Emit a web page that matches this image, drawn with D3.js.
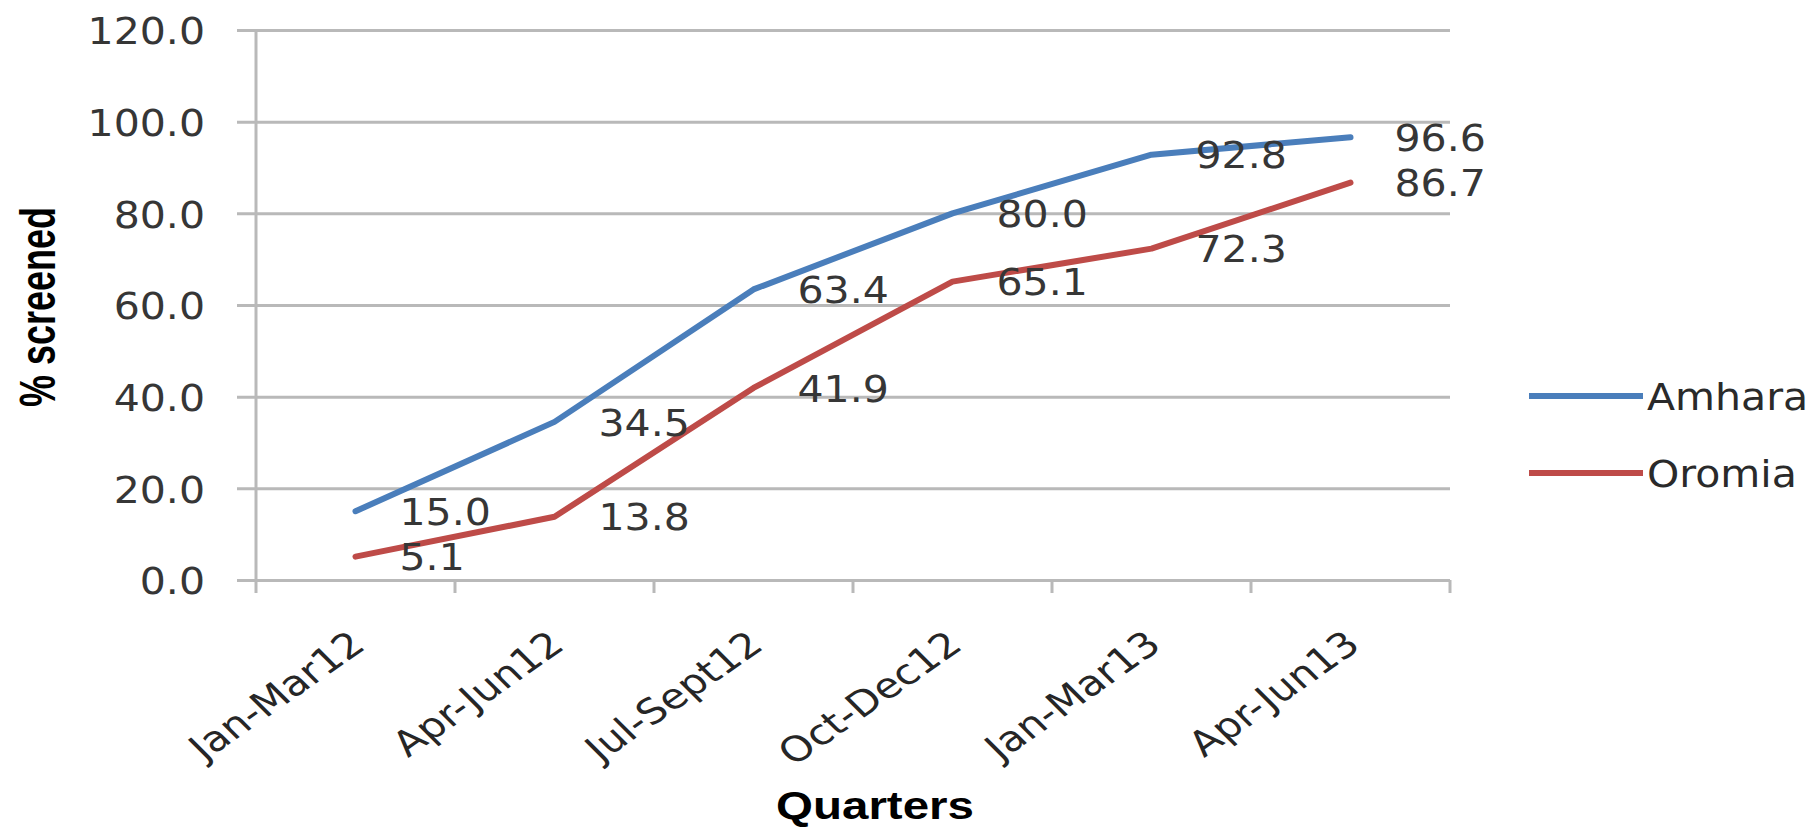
<!DOCTYPE html>
<html>
<head>
<meta charset="utf-8">
<script src="https://cdn.jsdelivr.net/npm/d3@7"></script>
<style>
  html, body { margin: 0; padding: 0; background: #ffffff; }
  svg { display: block; }
</style>
</head>
<body>
<svg id="chart" width="1816" height="834"></svg>
<script>
// Quarterly screening coverage by region
const categories = ["Jan-Mar12", "Apr-Jun12", "Jul-Sept12", "Oct-Dec12", "Jan-Mar13", "Apr-Jun13"];
const amhara = [15.0, 34.5, 63.4, 80.0, 92.8, 96.6];
const oromia = [5.1, 13.8, 41.9, 65.1, 72.3, 86.7];
const seriesNames = ["Amhara", "Oromia"];
const yTicks = [0, 20, 40, 60, 80, 100, 120];

const colors = { Amhara: "#4a7ebb", Oromia: "#be4b48" };
const gridColor = "#b9b9b9";
const textColor = "#363636";
const font = "'DejaVu Sans', sans-serif";
const boldFont = "'Liberation Sans', Arial, sans-serif";
const textStretch = 1.08;

const svg = d3.select("#chart");
svg.append("rect").attr("width", 1816).attr("height", 834).attr("fill", "#ffffff");

const plot = { left: 256, right: 1450, top: 30, bottom: 580 };

const x = d3.scaleBand().domain(categories).range([plot.left, plot.right]).padding(0);
const y = d3.scaleLinear().domain([0, 120]).range([plot.bottom, plot.top]);
const cx = c => x(c) + x.bandwidth() / 2;

// Horizontal gridlines with their value labels
const gridStart = plot.left - 19;
const yAxis = d3.axisLeft(y)
  .tickValues(yTicks)
  .tickFormat(d3.format(".1f"))
  .tickSize(-(plot.right - gridStart))
  .tickPadding(0);

const yg = svg.append("g")
  .attr("transform", `translate(${gridStart},0)`)
  .call(yAxis);
yg.select(".domain").remove();
yg.selectAll(".tick line")
  .attr("stroke", gridColor)
  .attr("stroke-width", 3);
yg.selectAll(".tick text")
  .attr("x", 0)
  .attr("dy", "0.36em")
  .attr("transform", `translate(-32,0) scale(${textStretch},1)`)
  .attr("fill", textColor)
  .attr("font-family", font)
  .attr("font-size", 38);

// Vertical axis line
svg.append("line")
  .attr("x1", plot.left).attr("x2", plot.left)
  .attr("y1", plot.top).attr("y2", plot.bottom + 13)
  .attr("stroke", gridColor).attr("stroke-width", 3);

// Category boundary ticks below the baseline
const boundaries = categories.map(c => x(c)).concat([plot.right]);
svg.append("g").selectAll("line")
  .data(boundaries.slice(1))
  .join("line")
  .attr("x1", d => d).attr("x2", d => d)
  .attr("y1", plot.bottom).attr("y2", plot.bottom + 13)
  .attr("stroke", gridColor).attr("stroke-width", 3);

// Category labels, slanted
const xAxis = d3.axisBottom(x).tickSize(0).tickPadding(0);
const xg = svg.append("g")
  .attr("transform", `translate(0,${plot.bottom})`)
  .call(xAxis);
xg.select(".domain").remove();
xg.selectAll(".tick text")
  .attr("x", 0).attr("y", 0)
  .attr("dy", "0.36em")
  .attr("text-anchor", "end")
  .attr("transform", "translate(2,58) scale(1.2,1) rotate(-40)")
  .attr("fill", "#262626")
  .attr("font-family", font)
  .attr("font-size", 35);

// Series lines
const series = [
  { name: seriesNames[0], values: amhara },
  { name: seriesNames[1], values: oromia }
];
const line = d3.line()
  .x((d, i) => cx(categories[i]))
  .y(d => y(d));

svg.append("g").selectAll("path")
  .data(series)
  .join("path")
  .attr("d", s => line(s.values))
  .attr("fill", "none")
  .attr("stroke", s => colors[s.name])
  .attr("stroke-width", 6)
  .attr("stroke-linejoin", "round")
  .attr("stroke-linecap", "round");

// Value labels to the right of each point
const labelGroup = svg.append("g");
series.forEach(s => {
  labelGroup.selectAll(null)
    .data(s.values)
    .join("text")
    .attr("transform", (d, i) => `translate(${cx(categories[i]) + 44},${y(d)}) scale(${textStretch},1)`)
    .attr("dy", "0.36em")
    .attr("fill", textColor)
    .attr("font-family", font)
    .attr("font-size", 38)
    .text(d => d3.format(".1f")(d));
});

// Legend
const legendY = [396, 473];
const legend = svg.append("g").selectAll("g")
  .data(series)
  .join("g")
  .attr("transform", (s, i) => `translate(1529,${legendY[i]})`);
legend.append("line")
  .attr("x1", 0).attr("x2", 114)
  .attr("stroke", s => colors[s.name])
  .attr("stroke-width", 6);
legend.append("text")
  .attr("transform", `translate(118,0) scale(${textStretch},1)`)
  .attr("dy", "0.36em")
  .attr("fill", "#2a2a2a")
  .attr("font-family", font)
  .attr("font-size", 38)
  .text(s => s.name);

// Axis titles
svg.append("text")
  .attr("transform", "translate(875,819) scale(1.25,1)")
  .attr("text-anchor", "middle")
  .attr("font-family", boldFont)
  .attr("font-weight", "bold")
  .attr("font-size", 38)
  .attr("fill", "#000000")
  .text("Quarters");

svg.append("text")
  .attr("transform", "translate(55,307) scale(1.4,1) rotate(-90)")
  .attr("text-anchor", "middle")
  .attr("font-family", boldFont)
  .attr("font-weight", "bold")
  .attr("font-size", 36)
  .attr("fill", "#000000")
  .text("% screened");
</script>
</body>
</html>
